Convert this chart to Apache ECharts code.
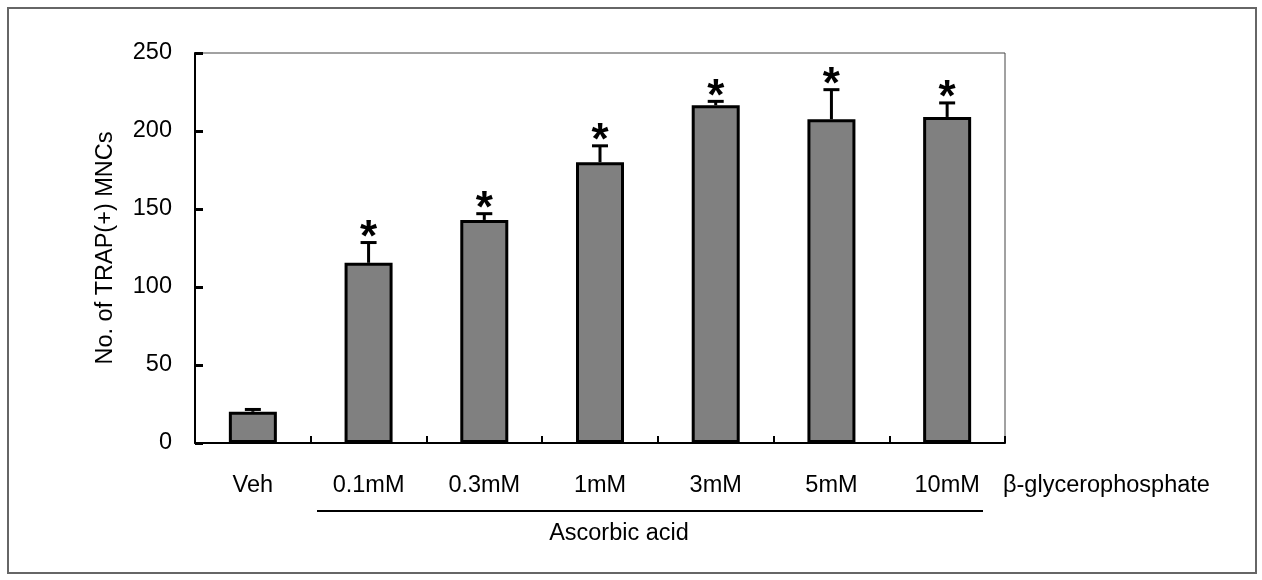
<!DOCTYPE html>
<html>
<head>
<meta charset="utf-8">
<script src="https://cdn.jsdelivr.net/npm/echarts@6/dist/echarts.min.js"></script>
<style>
html,body{margin:0;padding:0;background:#fff;}
#chart{width:1262px;height:580px;}
</style>
</head>
<body>
<div id="chart"></div>
<script>
var categories = ['Veh', '0.1mM', '0.3mM', '1mM', '3mM', '5mM', '10mM'];
var means = [20, 115.5, 143, 180, 216.5, 207.5, 209];
var errors = [1.5, 13, 4, 10.5, 2.5, 19, 9];
var significant = [false, true, true, true, true, true, true];
var yMin = 0, yMax = 250, yStep = 50;
var yAxisTitle = 'No. of TRAP(+) MNCs';
var rightLabel = '\u03b2-glycerophosphate';
var groupLabel = 'Ascorbic acid';

var FONT = '"Liberation Sans", Arial, sans-serif';
var chart = echarts.init(document.getElementById('chart'), null, {renderer: 'canvas'});

var errData = categories.map(function (c, i) { return [i, means[i], errors[i], significant[i] ? 1 : 0]; });

var option = {
  backgroundColor: '#fff',
  animation: false,
  grid: {left: 195, top: 53, right: 257, bottom: 137, show: true, borderColor: '#444', borderWidth: 1, backgroundColor: 'transparent'},
  xAxis: {
    type: 'category',
    data: categories,
    axisLine: {lineStyle: {color: '#000', width: 2}},
    axisTick: {show: true, inside: true, length: 7, lineStyle: {color: '#000', width: 2}},
    axisLabel: {color: '#000', fontFamily: FONT, fontSize: 23.5, margin: 31}
  },
  yAxis: {
    type: 'value',
    min: yMin, max: yMax, interval: yStep,
    name: yAxisTitle,
    nameLocation: 'middle',
    nameGap: 77,
    nameTextStyle: {color: '#000', fontFamily: FONT, fontSize: 23.5},
    axisLine: {show: true, lineStyle: {color: '#000', width: 2}},
    axisTick: {show: true, inside: true, length: 8, lineStyle: {color: '#000', width: 3}},
    axisLabel: {color: '#000', fontFamily: FONT, fontSize: 23.5, margin: 23},
    splitLine: {show: false}
  },
  series: [
    {
      type: 'bar',
      data: means,
      barWidth: 48,
      itemStyle: {color: '#808080', borderColor: '#000', borderWidth: 3},
      z: 2
    },
    {
      type: 'custom',
      data: errData,
      z: 3,
      renderItem: function (params, api) {
        var i = api.value(0), m = api.value(1), e = api.value(2), sig = api.value(3);
        var base = api.coord([i, m]);
        var top = api.coord([i, m + e]);
        var children = [
          {type: 'line', shape: {x1: base[0], y1: base[1], x2: top[0], y2: top[1]}, style: {stroke: '#000', lineWidth: 3}},
          {type: 'line', shape: {x1: top[0] - 8, y1: top[1], x2: top[0] + 8, y2: top[1]}, style: {stroke: '#000', lineWidth: 3}}
        ];
        if (sig) {
          children.push({type: 'text', style: {text: '*', x: top[0], y: top[1] - 4, align: 'center', verticalAlign: 'middle', fill: '#000', font: 'bold 44px ' + FONT}});
        }
        return {type: 'group', children: children};
      }
    }
  ],
  graphic: [
    {type: 'rect', shape: {x: 8, y: 8, width: 1248, height: 565}, style: {fill: 'none', stroke: '#666', lineWidth: 2}, silent: true},
    {type: 'text', x: 1003, y: 486, style: {text: rightLabel, fill: '#000', font: '23.5px ' + FONT, verticalAlign: 'middle', align: 'left'}},
    {type: 'line', shape: {x1: 317, y1: 511, x2: 983, y2: 511}, style: {stroke: '#000', lineWidth: 2}},
    {type: 'text', x: 619, y: 534, style: {text: groupLabel, fill: '#000', font: '23.5px ' + FONT, verticalAlign: 'middle', align: 'center'}}
  ]
};
chart.setOption(option);
</script>
</body>
</html>
